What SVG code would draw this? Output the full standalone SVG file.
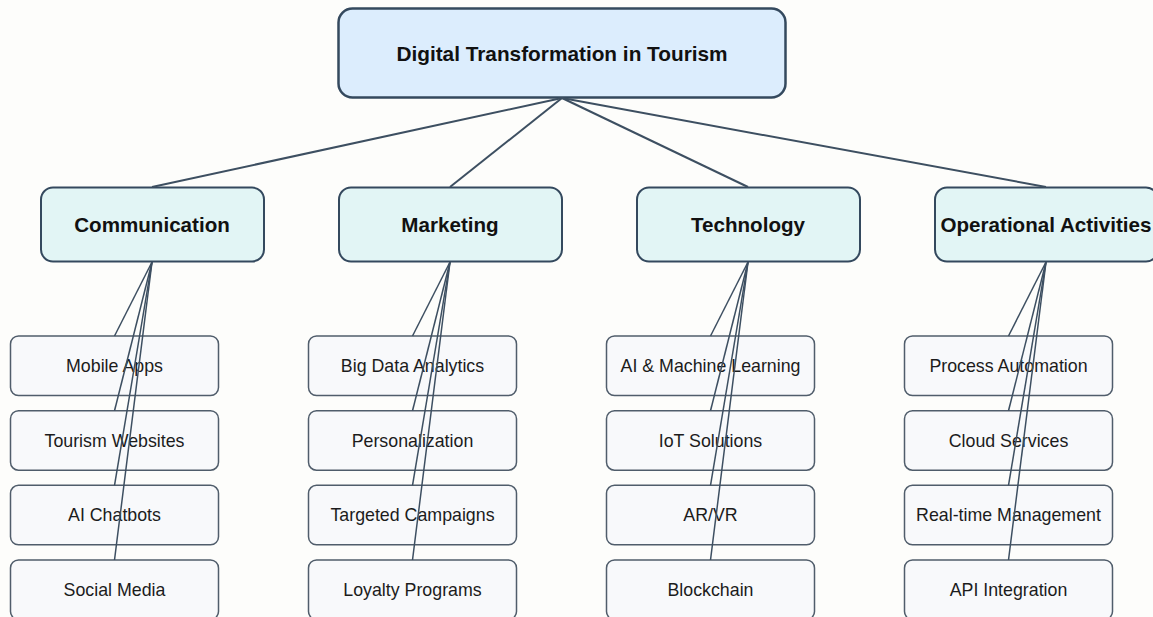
<svg xmlns="http://www.w3.org/2000/svg" width="1153" height="617" viewBox="0 0 1153 617">
  <style>
    .root rect { fill: #dcedfd; stroke: #34495e; stroke-width: 2.5; }
    .cat rect { fill: #e2f5f5; stroke: #34495e; stroke-width: 2; }
    .leaf rect { fill: #f8f9fb; stroke: #505d6b; stroke-width: 1.5; }
    text { font-family: "Liberation Sans", Arial, sans-serif; text-anchor: middle; dominant-baseline: central; fill: #111; }
    .root text { font-size: 20.8px; font-weight: bold; }
    .cat text { font-size: 20.6px; font-weight: bold; }
    .leaf text { font-size: 17.8px; fill: #1c1c1c; }
    .edges line { stroke: #3d4f61; fill: none; }
    .edges .top { stroke-width: 2; }
    .edges .sub { stroke-width: 1.5; }
  </style>
  <rect width="1153" height="617" fill="#fdfdfb"/>

  <g id="root" class="root">
    <rect x="338.5" y="8.5" width="447" height="89" rx="14"/>
    <text x="562" y="53">Digital Transformation in Tourism</text>
  </g>

  <g id="cat-communication" class="cat">
    <rect x="41" y="187.5" width="223" height="74" rx="12"/>
    <text x="152" y="224">Communication</text>
  </g>
  <g id="cat-marketing" class="cat">
    <rect x="339" y="187.5" width="223" height="74" rx="12"/>
    <text x="450" y="224">Marketing</text>
  </g>
  <g id="cat-technology" class="cat">
    <rect x="637" y="187.5" width="223" height="74" rx="12"/>
    <text x="748" y="224">Technology</text>
  </g>
  <g id="cat-operations" class="cat">
    <rect x="935" y="187.5" width="223" height="74" rx="12"/>
    <text x="1046" y="224">Operational Activities</text>
  </g>

  <!-- Communication leaves -->
  <g id="leaf-mobile-apps" class="leaf"><rect x="10.5" y="336" width="208" height="59.5" rx="8"/><text x="114.5" y="366">Mobile Apps</text></g>
  <g id="leaf-tourism-websites" class="leaf"><rect x="10.5" y="410.7" width="208" height="59.5" rx="8"/><text x="114.5" y="440.7">Tourism Websites</text></g>
  <g id="leaf-ai-chatbots" class="leaf"><rect x="10.5" y="485.3" width="208" height="59.5" rx="8"/><text x="114.5" y="515.3">AI Chatbots</text></g>
  <g id="leaf-social-media" class="leaf"><rect x="10.5" y="560" width="208" height="59.5" rx="8"/><text x="114.5" y="590">Social Media</text></g>

  <!-- Marketing leaves -->
  <g id="leaf-big-data" class="leaf"><rect x="308.5" y="336" width="208" height="59.5" rx="8"/><text x="412.5" y="366">Big Data Analytics</text></g>
  <g id="leaf-personalization" class="leaf"><rect x="308.5" y="410.7" width="208" height="59.5" rx="8"/><text x="412.5" y="440.7">Personalization</text></g>
  <g id="leaf-targeted-campaigns" class="leaf"><rect x="308.5" y="485.3" width="208" height="59.5" rx="8"/><text x="412.5" y="515.3">Targeted Campaigns</text></g>
  <g id="leaf-loyalty-programs" class="leaf"><rect x="308.5" y="560" width="208" height="59.5" rx="8"/><text x="412.5" y="590">Loyalty Programs</text></g>

  <!-- Technology leaves -->
  <g id="leaf-ai-ml" class="leaf"><rect x="606.5" y="336" width="208" height="59.5" rx="8"/><text x="710.5" y="366">AI &amp; Machine Learning</text></g>
  <g id="leaf-iot" class="leaf"><rect x="606.5" y="410.7" width="208" height="59.5" rx="8"/><text x="710.5" y="440.7">IoT Solutions</text></g>
  <g id="leaf-ar-vr" class="leaf"><rect x="606.5" y="485.3" width="208" height="59.5" rx="8"/><text x="710.5" y="515.3">AR/VR</text></g>
  <g id="leaf-blockchain" class="leaf"><rect x="606.5" y="560" width="208" height="59.5" rx="8"/><text x="710.5" y="590">Blockchain</text></g>

  <!-- Operational leaves -->
  <g id="leaf-process-automation" class="leaf"><rect x="904.5" y="336" width="208" height="59.5" rx="8"/><text x="1008.5" y="366">Process Automation</text></g>
  <g id="leaf-cloud-services" class="leaf"><rect x="904.5" y="410.7" width="208" height="59.5" rx="8"/><text x="1008.5" y="440.7">Cloud Services</text></g>
  <g id="leaf-realtime" class="leaf"><rect x="904.5" y="485.3" width="208" height="59.5" rx="8"/><text x="1008.5" y="515.3">Real-time Management</text></g>
  <g id="leaf-api" class="leaf"><rect x="904.5" y="560" width="208" height="59.5" rx="8"/><text x="1008.5" y="590">API Integration</text></g>

  <g id="connectors" class="edges">
    <line class="top" x1="562" y1="98" x2="152" y2="187"/>
    <line class="top" x1="562" y1="98" x2="450" y2="187"/>
    <line class="top" x1="562" y1="98" x2="748" y2="187"/>
    <line class="top" x1="562" y1="98" x2="1046" y2="187"/>

    <line class="sub" x1="152" y1="262" x2="114.5" y2="336"/>
    <line class="sub" x1="152" y1="262" x2="114.5" y2="410.7"/>
    <line class="sub" x1="152" y1="262" x2="114.5" y2="485.3"/>
    <line class="sub" x1="152" y1="262" x2="114.5" y2="560"/>

    <line class="sub" x1="450" y1="262" x2="412.5" y2="336"/>
    <line class="sub" x1="450" y1="262" x2="412.5" y2="410.7"/>
    <line class="sub" x1="450" y1="262" x2="412.5" y2="485.3"/>
    <line class="sub" x1="450" y1="262" x2="412.5" y2="560"/>

    <line class="sub" x1="748" y1="262" x2="710.5" y2="336"/>
    <line class="sub" x1="748" y1="262" x2="710.5" y2="410.7"/>
    <line class="sub" x1="748" y1="262" x2="710.5" y2="485.3"/>
    <line class="sub" x1="748" y1="262" x2="710.5" y2="560"/>

    <line class="sub" x1="1046" y1="262" x2="1008.5" y2="336"/>
    <line class="sub" x1="1046" y1="262" x2="1008.5" y2="410.7"/>
    <line class="sub" x1="1046" y1="262" x2="1008.5" y2="485.3"/>
    <line class="sub" x1="1046" y1="262" x2="1008.5" y2="560"/>
  </g>
</svg>
